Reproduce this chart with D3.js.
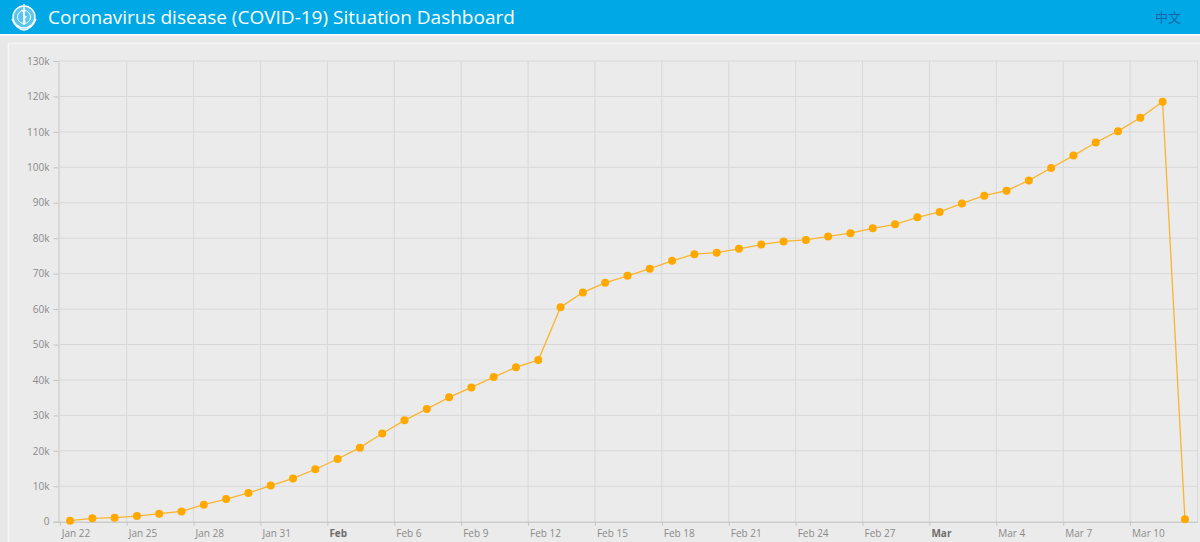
<!DOCTYPE html>
<html><head><meta charset="utf-8">
<script src="https://cdn.jsdelivr.net/npm/d3@7/dist/d3.min.js"></script>
<style>
html,body{margin:0;padding:0;background:#e8e8e8;overflow:hidden;}
svg{display:block;font-family:"Open Sans","Noto Sans",sans-serif;}
</style></head>
<body>
<svg id="c" width="1200" height="542"></svg>
<script>
// ---- data ----
const dates = d3.range(51).map(i => d3.utcDay.offset(new Date(Date.UTC(2020,0,22)), i));
const cases = [
  300, 950, 1130, 1600, 2260, 2900, 4800, 6400, 8100, 10200,
  12200, 14800, 17700, 20900, 24900, 28600, 31800, 35100, 37900, 40800,
  43600, 45600, 60500, 64700, 67400, 69400, 71400, 73600, 75500, 75900,
  77000, 78200, 79100, 79500, 80500, 81400, 82800, 83900, 85900, 87400,
  89800, 92000, 93400, 96300, 99800, 103300, 107000, 110200, 114000, 118500,
  700
];
const tickDates = ["2020-01-22","2020-01-25","2020-01-28","2020-01-31","2020-02-03","2020-02-06","2020-02-09",
  "2020-02-12","2020-02-15","2020-02-18","2020-02-21","2020-02-24","2020-02-27","2020-03-01","2020-03-04",
  "2020-03-07","2020-03-10"];
const tickLabels = ["Jan 22","Jan 25","Jan 28","Jan 31","Feb","Feb 6","Feb 9","Feb 12","Feb 15","Feb 18",
  "Feb 21","Feb 24","Feb 27","Mar","Mar 4","Mar 7","Mar 10"];
const yTicks = [0,10000,20000,30000,40000,50000,60000,70000,80000,90000,100000,110000,120000,130000];
const yTickLabels = ["0","10k","20k","30k","40k","50k","60k","70k","80k","90k","100k","110k","120k","130k"];
const title = "Coronavirus disease (COVID-19) Situation Dashboard";
const langLabel = "中文";

// ---- drawing ----
const svg = d3.select("#c");
// header
svg.append("rect").attr("x",0).attr("y",0).attr("width",1200).attr("height",34).attr("fill","#00a8e6");
svg.append("rect").attr("x",0).attr("y",34).attr("width",1200).attr("height",1.5).attr("fill","#ffffff");
// logo (simplified emblem)
const logo = svg.append("g").attr("transform","translate(24,17)").attr("fill","none").attr("stroke","#ffffff");
logo.append("circle").attr("r",11).attr("stroke-width",1.4).attr("fill","rgba(255,255,255,0.35)");
logo.append("circle").attr("r",6.5).attr("stroke-width",1);
logo.append("line").attr("x1",0).attr("y1",-13).attr("x2",0).attr("y2",8).attr("stroke-width",1.6);
logo.append("path").attr("d","M-3,-7 C3,-5 -3,-2 2,0 C-2,2 3,4 0,6").attr("stroke-width",1.2);
logo.append("path").attr("d","M-12,2 Q-8,12 0,13 Q8,12 12,2").attr("stroke-width",1.4);
svg.append("text").attr("x",48).attr("y",24).attr("fill","#ffffff").attr("font-size",19)
  .attr("font-family","'Open Sans','Noto Sans',sans-serif").text(title);
svg.append("text").attr("x",1155).attr("y",22).attr("fill","#1466a6").attr("font-size",13)
  .attr("font-family","'Noto Sans CJK SC',sans-serif").text(langLabel);

// panel
svg.append("rect").attr("x",8.5).attr("y",43.5).attr("width",1200).attr("height",520)
  .attr("fill","#ebebeb").attr("stroke","#f7f7f7").attr("stroke-width",1.5);

const x = d3.scaleUtc().domain([new Date(Date.UTC(2020,0,22)), new Date(Date.UTC(2020,2,13))]).range([59.8, 1197]);
const y = d3.scaleLinear().domain([0,130000]).range([521.7, 61]);
const parse = d3.utcParse("%Y-%m-%d");
const tdates = tickDates.map(parse);

// horizontal grid + y axis
const yAxis = d3.axisLeft(y).tickValues(yTicks).tickSize(5).tickPadding(4)
  .tickFormat((d,i) => yTickLabels[i]);
const gy = svg.append("g").attr("transform","translate(58.5,0)").call(yAxis);
gy.select(".domain").attr("stroke","#c4c4c4");
gy.selectAll(".tick line").attr("stroke","#c4c4c4");
gy.selectAll(".tick text").attr("fill","#8a8a8a").attr("font-size",10).attr("font-family","'Open Sans',sans-serif");
svg.append("g").selectAll("line").data(yTicks.slice(1)).join("line")
  .attr("x1",58.5).attr("x2",1198).attr("y1",d=>y(d)).attr("y2",d=>y(d))
  .attr("stroke","#d8d8d8").attr("stroke-width",1);

// vertical grid
svg.append("g").selectAll("line").data(tdates.slice(1)).join("line")
  .attr("x1",d=>x(d)).attr("x2",d=>x(d)).attr("y1",61).attr("y2",521.7)
  .attr("stroke","#d8d8d8").attr("stroke-width",1);
svg.append("line").attr("x1",1197.5).attr("x2",1197.5).attr("y1",61).attr("y2",521.7).attr("stroke","#d8d8d8");

// x axis
const xAxis = d3.axisBottom(x).tickValues(tdates).tickSize(4).tickPadding(4)
  .tickFormat((d,i) => tickLabels[i]);
const gx = svg.append("g").attr("transform","translate(0,521.7)").call(xAxis);
gx.select(".domain").attr("stroke","#bdbdbd").attr("d","M58.5,0.5H1198");
gx.selectAll(".tick line").attr("stroke","#c4c4c4");
gx.selectAll(".tick text").attr("text-anchor","start").attr("dx",1.5)
  .attr("fill",(d,i)=> tickLabels[i].length===3 ? "#6e6e6e" : "#8a8a8a")
  .attr("font-weight",(d,i)=> tickLabels[i].length===3 ? "bold" : "normal")
  .attr("font-size",10).attr("font-family","'Open Sans',sans-serif");

// series
const pts = dates.map((d,i) => ({t: d3.utcHour.offset(d, 11), v: cases[i]}));
const line = d3.line().x(d=>x(d.t)).y(d=>y(d.v));
svg.append("path").datum(pts).attr("d",line).attr("fill","none")
  .attr("stroke","#f9b52e").attr("stroke-width",1.3);
svg.append("g").selectAll("circle").data(pts).join("circle")
  .attr("cx",d=>x(d.t)).attr("cy",d=>y(d.v)).attr("r",4).attr("fill","#ffa800");
</script>
</body></html>
